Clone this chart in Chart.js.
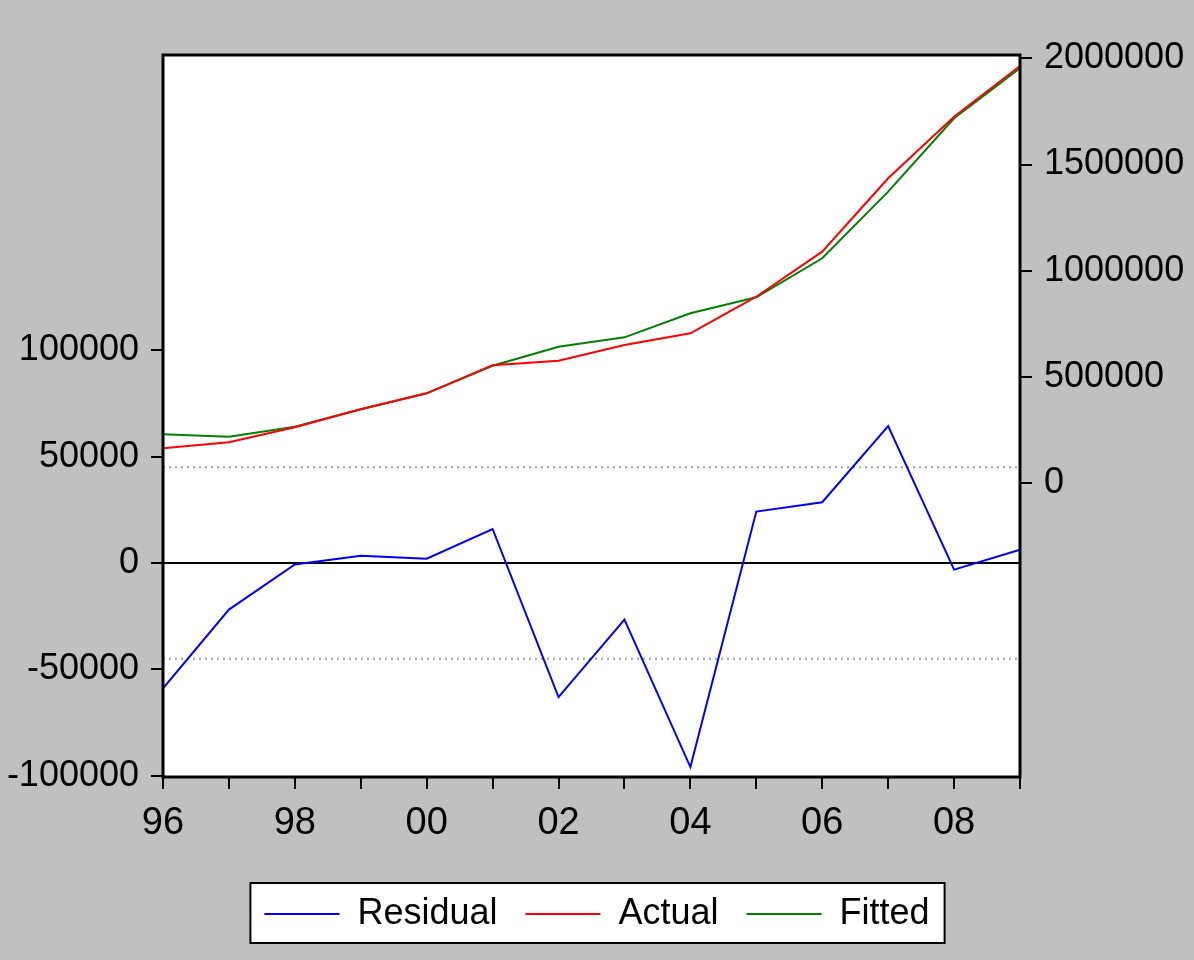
<!DOCTYPE html>
<html>
<head>
<meta charset="utf-8">
<script src="https://cdn.jsdelivr.net/npm/chart.js@4/dist/chart.umd.min.js"></script>
<style>
  html, body { margin: 0; padding: 0; background: #c0c0c0; }
  #wrap { width: 1194px; height: 960px; }
</style>
</head>
<body>
<div id="wrap"><canvas id="myChart" width="1194" height="960"></canvas></div>
<script>
const years = ['1996','1997','1998','1999','2000','2001','2002','2003','2004','2005','2006','2007','2008','2009'];
const residual = [-59000, -21900, -700, 3400, 2000, 16000, -63100, -26600, -96000, 24200, 28600, 64400, -3100, 6200];
const actual = [164700, 192900, 263500, 348200, 423500, 556000, 577000, 651000, 706000, 878000, 1089900, 1435300, 1725200, 1963800];
const fitted = [230600, 219300, 266400, 348200, 423500, 553000, 642800, 687000, 800000, 875300, 1058900, 1372300, 1717700, 1953000];
const leftTicks = [-100000, -50000, 0, 50000, 100000];
const rightTicks = [0, 500000, 1000000, 1500000, 2000000];
const RESID_SD = 45000;

const FONT = '"Liberation Sans", Arial, sans-serif';
const ctx = document.getElementById('myChart').getContext('2d');

const frame = {
  id: 'frame',
  beforeDraw(chart) {
    const c = chart.ctx, a = chart.chartArea;
    c.save();
    c.fillStyle = '#c0c0c0';
    c.fillRect(0, 0, chart.width, chart.height);
    c.fillStyle = '#ffffff';
    c.fillRect(a.left, a.top, a.right - a.left, a.bottom - a.top);
    // legend box
    const hb = chart.legend.legendHitBoxes;
    if (hb && hb.length) {
      const first = hb[0], last = hb[hb.length - 1];
      const mid = first.top + first.height / 2;
      const x0 = first.left - 14, x1 = last.left + last.width + 15;
      c.fillStyle = '#ffffff';
      c.fillRect(x0, mid - 31, x1 - x0, 60);
      c.strokeStyle = '#000000';
      c.lineWidth = 2;
      c.strokeRect(x0, mid - 31, x1 - x0, 60);
    }
    c.restore();
  },
  afterDraw(chart) {
    const c = chart.ctx, a = chart.chartArea;
    c.save();
    c.strokeStyle = '#000000';
    c.lineWidth = 3;
    c.strokeRect(a.left, a.top, a.right - a.left, a.bottom - a.top);
    c.restore();
  }
};

function refLine(value, color, dash, width) {
  return {
    label: '',
    data: years.map(() => value),
    yAxisID: 'y',
    borderColor: color,
    backgroundColor: color,
    borderWidth: width,
    borderDash: dash,
    pointRadius: 0,
    order: 5,
  };
}

new Chart(ctx, {
  type: 'line',
  data: {
    labels: years,
    datasets: [
      {
        label: 'Residual',
        data: residual,
        yAxisID: 'y',
        borderColor: '#0000ff',
        backgroundColor: '#0000ff',
        borderWidth: 2,
        pointRadius: 0,
      },
      {
        label: 'Actual',
        data: actual,
        yAxisID: 'y2',
        borderColor: '#ff0000',
        backgroundColor: '#ff0000',
        borderWidth: 2,
        pointRadius: 0,
      },
      {
        label: 'Fitted',
        data: fitted,
        yAxisID: 'y2',
        borderColor: '#008000',
        backgroundColor: '#008000',
        borderWidth: 2,
        pointRadius: 0,
      },
      refLine(0, '#000000', [], 2),
      refLine(RESID_SD, '#a0a0a0', [2, 4], 2),
      refLine(-RESID_SD, '#a0a0a0', [2, 4], 2),
    ],
  },
  options: {
    responsive: false,
    animation: false,
    events: [],
    layout: { padding: { top: 55, right: 0, left: 0, bottom: 18 } },
    plugins: {
      tooltip: { enabled: false },
      legend: {
        position: 'bottom',
        labels: {
          filter: item => item.text !== '',
          usePointStyle: true,
          pointStyle: 'line',
          pointStyleWidth: 75,
          padding: 28,
          color: '#000000',
          font: { family: FONT, size: 36 },
        },
      },
    },
    scales: {
      x: {
        type: 'category',
        offset: false,
        afterFit: scale => { scale.height = 91; },
        grid: { drawOnChartArea: false, color: '#000000', lineWidth: 2, tickLength: 12, offset: false },
        border: { display: false },
        ticks: {
          autoSkip: false,
          maxRotation: 0,
          padding: 12,
          color: '#000000',
          font: { family: FONT, size: 38 },
          callback: function (value, index) {
            return index % 2 === 0 ? years[index].slice(2) : '';
          },
        },
      },
      y: {
        position: 'left',
        min: -100660,
        max: 238950,
        afterFit: scale => { scale.width = 163; },
        afterBuildTicks: scale => { scale.ticks = leftTicks.map(v => ({ value: v })); },
        grid: { drawOnChartArea: false, color: '#000000', lineWidth: 2, tickLength: 12 },
        border: { display: false },
        ticks: {
          padding: 12,
          color: '#000000',
          font: { family: FONT, size: 36 },
          callback: value => String(value),
        },
      },
      y2: {
        position: 'right',
        min: -1382000,
        max: 2015500,
        afterFit: scale => { scale.width = 174; },
        afterBuildTicks: scale => { scale.ticks = rightTicks.map(v => ({ value: v })); },
        grid: { drawOnChartArea: false, color: '#000000', lineWidth: 2, tickLength: 12 },
        border: { display: false },
        ticks: {
          padding: 12,
          color: '#000000',
          font: { family: FONT, size: 36 },
          callback: value => String(value),
        },
      },
    },
  },
  plugins: [frame],
});
</script>
</body>
</html>
